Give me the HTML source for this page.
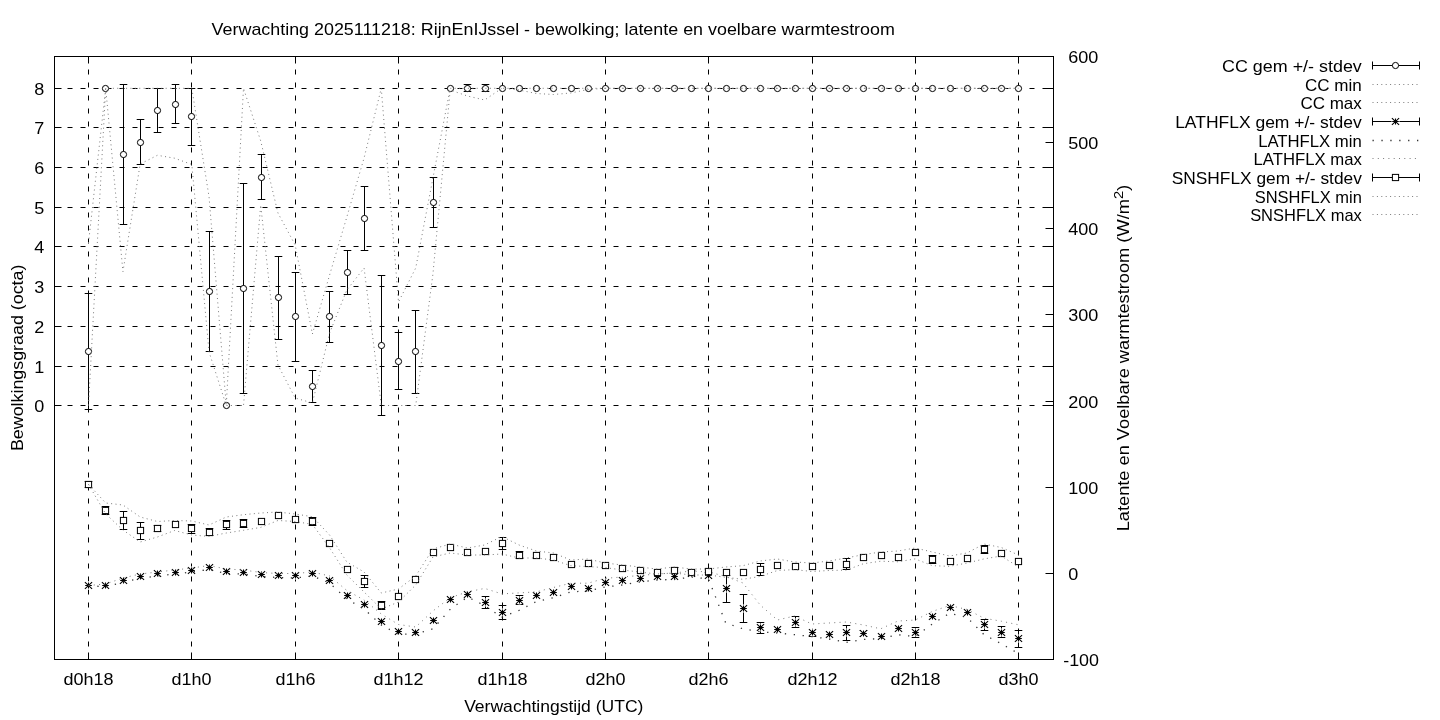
<!DOCTYPE html><html><head><meta charset="utf-8"><style>html,body{margin:0;padding:0;background:#fff;}svg{display:block;will-change:transform;}text{font-family:"Liberation Sans",sans-serif;fill:#000;}</style></head><body>
<svg width="1440" height="720" viewBox="0 0 1440 720">
<rect x="0" y="0" width="1440" height="720" fill="#fff"/>
<path d="M88.5,659.5V56.5M191.5,659.5V56.5M295.5,659.5V56.5M398.5,659.5V56.5M502.5,659.5V56.5M605.5,659.5V56.5M708.5,659.5V56.5M812.5,659.5V56.5M915.5,659.5V56.5M1018.5,659.5V56.5M54.5,88.5H1053.5M54.5,127.5H1053.5M54.5,167.5H1053.5M54.5,207.5H1053.5M54.5,246.5H1053.5M54.5,286.5H1053.5M54.5,326.5H1053.5M54.5,366.5H1053.5M54.5,405.5H1053.5" stroke="#000" stroke-width="1" fill="none" stroke-dasharray="5,8"/>
<path d="M88.5,659.5V652.5M88.5,56.5V63.5M191.5,659.5V652.5M191.5,56.5V63.5M295.5,659.5V652.5M295.5,56.5V63.5M398.5,659.5V652.5M398.5,56.5V63.5M502.5,659.5V652.5M502.5,56.5V63.5M605.5,659.5V652.5M605.5,56.5V63.5M708.5,659.5V652.5M708.5,56.5V63.5M812.5,659.5V652.5M812.5,56.5V63.5M915.5,659.5V652.5M915.5,56.5V63.5M1018.5,659.5V652.5M1018.5,56.5V63.5M54.5,88.5H61.5M1053.5,88.5H1046.5M54.5,127.5H61.5M1053.5,127.5H1046.5M54.5,167.5H61.5M1053.5,167.5H1046.5M54.5,207.5H61.5M1053.5,207.5H1046.5M54.5,246.5H61.5M1053.5,246.5H1046.5M54.5,286.5H61.5M1053.5,286.5H1046.5M54.5,326.5H61.5M1053.5,326.5H1046.5M54.5,366.5H61.5M1053.5,366.5H1046.5M54.5,405.5H61.5M1053.5,405.5H1046.5M1053.5,142.5H1045.5M1053.5,228.5H1045.5M1053.5,314.5H1045.5M1053.5,401.5H1045.5M1053.5,487.5H1045.5M1053.5,573.5H1045.5" stroke="#000" stroke-width="1" fill="none"/>
<path d="M88.50,293.50V409.50M84.70,293.50H92.30M84.70,409.50H92.30M123.50,84.50V224.50M119.70,84.50H127.30M119.70,224.50H127.30M140.50,119.50V164.50M136.70,119.50H144.30M136.70,164.50H144.30M157.50,88.50V132.50M153.70,88.50H161.30M153.70,132.50H161.30M175.50,84.50V123.50M171.70,84.50H179.30M171.70,123.50H179.30M191.50,88.50V145.50M187.70,88.50H195.30M187.70,145.50H195.30M209.50,231.50V351.50M205.70,231.50H213.30M205.70,351.50H213.30M243.50,183.50V393.50M239.70,183.50H247.30M239.70,393.50H247.30M261.50,154.50V199.50M257.70,154.50H265.30M257.70,199.50H265.30M278.50,256.50V339.50M274.70,256.50H282.30M274.70,339.50H282.30M295.50,272.50V361.50M291.70,272.50H299.30M291.70,361.50H299.30M312.50,370.50V402.50M308.70,370.50H316.30M308.70,402.50H316.30M329.50,291.50V342.50M325.70,291.50H333.30M325.70,342.50H333.30M347.50,250.50V294.50M343.70,250.50H351.30M343.70,294.50H351.30M364.50,186.50V250.50M360.70,186.50H368.30M360.70,250.50H368.30M381.50,275.50V415.50M377.70,275.50H385.30M377.70,415.50H385.30M398.50,332.50V389.50M394.70,332.50H402.30M394.70,389.50H402.30M415.50,310.50V393.50M411.70,310.50H419.30M411.70,393.50H419.30M433.50,177.50V227.50M429.70,177.50H437.30M429.70,227.50H437.30M467.50,84.50V91.50M463.70,84.50H471.30M463.70,91.50H471.30M485.50,84.50V91.50M481.70,84.50H489.30M481.70,91.50H489.30" stroke="#000" stroke-width="1" fill="none"/>
<g fill="#fff" stroke="#000" stroke-width="1"><circle cx="88.50" cy="351.50" r="3.10"/><circle cx="105.50" cy="88.50" r="3.10"/><circle cx="123.50" cy="154.50" r="3.10"/><circle cx="140.50" cy="142.50" r="3.10"/><circle cx="157.50" cy="110.50" r="3.10"/><circle cx="175.50" cy="104.50" r="3.10"/><circle cx="191.50" cy="116.50" r="3.10"/><circle cx="209.50" cy="291.50" r="3.10"/><circle cx="226.50" cy="405.50" r="3.10"/><circle cx="243.50" cy="288.50" r="3.10"/><circle cx="261.50" cy="177.50" r="3.10"/><circle cx="278.50" cy="297.50" r="3.10"/><circle cx="295.50" cy="316.50" r="3.10"/><circle cx="312.50" cy="386.50" r="3.10"/><circle cx="329.50" cy="316.50" r="3.10"/><circle cx="347.50" cy="272.50" r="3.10"/><circle cx="364.50" cy="218.50" r="3.10"/><circle cx="381.50" cy="345.50" r="3.10"/><circle cx="398.50" cy="361.50" r="3.10"/><circle cx="415.50" cy="351.50" r="3.10"/><circle cx="433.50" cy="202.50" r="3.10"/><circle cx="450.50" cy="88.50" r="3.10"/><circle cx="467.50" cy="88.50" r="3.10"/><circle cx="485.50" cy="88.50" r="3.10"/><circle cx="502.50" cy="88.50" r="3.10"/><circle cx="519.50" cy="88.50" r="3.10"/><circle cx="536.50" cy="88.50" r="3.10"/><circle cx="553.50" cy="88.50" r="3.10"/><circle cx="571.50" cy="88.50" r="3.10"/><circle cx="588.50" cy="88.50" r="3.10"/><circle cx="605.50" cy="88.50" r="3.10"/><circle cx="622.50" cy="88.50" r="3.10"/><circle cx="640.50" cy="88.50" r="3.10"/><circle cx="657.50" cy="88.50" r="3.10"/><circle cx="674.50" cy="88.50" r="3.10"/><circle cx="691.50" cy="88.50" r="3.10"/><circle cx="708.50" cy="88.50" r="3.10"/><circle cx="726.50" cy="88.50" r="3.10"/><circle cx="743.50" cy="88.50" r="3.10"/><circle cx="760.50" cy="88.50" r="3.10"/><circle cx="777.50" cy="88.50" r="3.10"/><circle cx="795.50" cy="88.50" r="3.10"/><circle cx="812.50" cy="88.50" r="3.10"/><circle cx="829.50" cy="88.50" r="3.10"/><circle cx="846.50" cy="88.50" r="3.10"/><circle cx="863.50" cy="88.50" r="3.10"/><circle cx="881.50" cy="88.50" r="3.10"/><circle cx="898.50" cy="88.50" r="3.10"/><circle cx="915.50" cy="88.50" r="3.10"/><circle cx="932.50" cy="88.50" r="3.10"/><circle cx="950.50" cy="88.50" r="3.10"/><circle cx="967.50" cy="88.50" r="3.10"/><circle cx="984.50" cy="88.50" r="3.10"/><circle cx="1001.50" cy="88.50" r="3.10"/><circle cx="1018.50" cy="88.50" r="3.10"/></g>
<polyline points="88.50,405.50 105.72,88.30 122.94,271.70 140.17,164.00 157.39,155.30 174.61,158.20 191.83,164.50 209.06,352.00 226.28,405.50 243.50,405.50 260.72,205.00 277.94,365.00 295.17,398.00 312.39,403.00 329.61,333.00 346.83,290.00 364.06,268.00 381.28,405.50 398.50,405.50 415.72,405.50 432.94,274.00 450.17,90.00 467.39,96.00 484.61,100.00 501.83,88.30 519.06,90.00 536.28,93.50 553.50,94.50 570.72,93.00 587.94,89.50 605.17,88.30 622.39,88.30 639.61,88.30 656.83,88.30 674.05,88.30 691.28,88.30 708.50,88.30 725.72,88.30 742.94,88.30 760.17,88.30 777.39,88.30 794.61,88.30 811.83,88.30 829.05,88.30 846.28,88.30 863.50,88.30 880.72,88.30 897.94,88.30 915.17,88.30 932.39,88.30 949.61,88.30 966.83,88.30 984.05,88.30 1001.28,88.30 1018.50,88.30" fill="none" stroke="#7a7a7a" stroke-width="1" stroke-dasharray="1,3.4"/>
<polyline points="88.50,243.00 105.72,88.30 122.94,88.30 140.17,88.30 157.39,88.30 174.61,88.30 191.83,88.30 209.06,197.00 226.28,405.50 243.50,88.30 260.72,141.00 277.94,213.00 295.17,245.00 312.39,334.00 329.61,275.00 346.83,217.00 364.06,158.00 381.28,88.30 398.50,302.00 415.72,268.00 432.94,178.00 450.17,88.30 467.39,88.30 484.61,88.30 501.83,88.30 519.06,88.30 536.28,88.30 553.50,88.30 570.72,88.30 587.94,88.30 605.17,88.30 622.39,88.30 639.61,88.30 656.83,88.30 674.05,88.30 691.28,88.30 708.50,88.30 725.72,88.30 742.94,88.30 760.17,88.30 777.39,88.30 794.61,88.30 811.83,88.30 829.05,88.30 846.28,88.30 863.50,88.30 880.72,88.30 897.94,88.30 915.17,88.30 932.39,88.30 949.61,88.30 966.83,88.30 984.05,88.30 1001.28,88.30 1018.50,88.30" fill="none" stroke="#7a7a7a" stroke-width="1" stroke-dasharray="1,3.4"/>
<path d="M485.50,596.50V608.50M481.70,596.50H489.30M481.70,608.50H489.30M502.50,605.50V619.50M498.70,605.50H506.30M498.70,619.50H506.30M519.50,595.50V604.50M515.70,595.50H523.30M515.70,604.50H523.30M726.50,575.50V602.50M722.70,575.50H730.30M722.70,602.50H730.30M743.50,594.50V622.50M739.70,594.50H747.30M739.70,622.50H747.30M760.50,622.50V633.50M756.70,622.50H764.30M756.70,633.50H764.30M795.50,616.50V627.50M791.70,616.50H799.30M791.70,627.50H799.30M812.50,632.40V636.50M808.70,636.50H816.30M846.50,625.50V640.50M842.70,625.50H850.30M842.70,640.50H850.30M863.50,630.50V636.50M859.70,630.50H867.30M859.70,636.50H867.30M915.50,627.50V637.50M911.70,627.50H919.30M911.70,637.50H919.30M984.50,619.50V630.50M980.70,619.50H988.30M980.70,630.50H988.30M1001.50,626.50V637.50M997.70,626.50H1005.30M997.70,637.50H1005.30M1018.50,630.50V647.50M1014.70,630.50H1022.30M1014.70,647.50H1022.30" stroke="#000" stroke-width="1" fill="none"/>
<g fill="#fff"><circle cx="88.50" cy="585.50" r="3.90"/><circle cx="105.50" cy="585.50" r="3.90"/><circle cx="123.50" cy="580.50" r="3.90"/><circle cx="140.50" cy="576.50" r="3.90"/><circle cx="157.50" cy="573.50" r="3.90"/><circle cx="175.50" cy="572.50" r="3.90"/><circle cx="191.50" cy="570.50" r="3.90"/><circle cx="209.50" cy="567.50" r="3.90"/><circle cx="226.50" cy="571.50" r="3.90"/><circle cx="243.50" cy="572.50" r="3.90"/><circle cx="261.50" cy="574.50" r="3.90"/><circle cx="278.50" cy="575.50" r="3.90"/><circle cx="295.50" cy="575.50" r="3.90"/><circle cx="312.50" cy="573.50" r="3.90"/><circle cx="329.50" cy="580.50" r="3.90"/><circle cx="347.50" cy="595.50" r="3.90"/><circle cx="364.50" cy="604.50" r="3.90"/><circle cx="381.50" cy="621.50" r="3.90"/><circle cx="398.50" cy="631.50" r="3.90"/><circle cx="415.50" cy="632.50" r="3.90"/><circle cx="433.50" cy="620.50" r="3.90"/><circle cx="450.50" cy="599.50" r="3.90"/><circle cx="467.50" cy="594.50" r="3.90"/><circle cx="485.50" cy="602.50" r="3.90"/><circle cx="502.50" cy="612.50" r="3.90"/><circle cx="519.50" cy="600.50" r="3.90"/><circle cx="536.50" cy="595.50" r="3.90"/><circle cx="553.50" cy="592.50" r="3.90"/><circle cx="571.50" cy="586.50" r="3.90"/><circle cx="588.50" cy="588.50" r="3.90"/><circle cx="605.50" cy="582.50" r="3.90"/><circle cx="622.50" cy="580.50" r="3.90"/><circle cx="640.50" cy="578.50" r="3.90"/><circle cx="657.50" cy="576.50" r="3.90"/><circle cx="674.50" cy="576.50" r="3.90"/><circle cx="691.50" cy="573.50" r="3.90"/><circle cx="708.50" cy="575.50" r="3.90"/><circle cx="726.50" cy="588.50" r="3.90"/><circle cx="743.50" cy="608.50" r="3.90"/><circle cx="760.50" cy="627.50" r="3.90"/><circle cx="777.50" cy="629.50" r="3.90"/><circle cx="795.50" cy="622.50" r="3.90"/><circle cx="812.50" cy="632.50" r="3.90"/><circle cx="829.50" cy="634.50" r="3.90"/><circle cx="846.50" cy="632.50" r="3.90"/><circle cx="863.50" cy="633.50" r="3.90"/><circle cx="881.50" cy="636.50" r="3.90"/><circle cx="898.50" cy="628.50" r="3.90"/><circle cx="915.50" cy="632.50" r="3.90"/><circle cx="932.50" cy="616.50" r="3.90"/><circle cx="950.50" cy="607.50" r="3.90"/><circle cx="967.50" cy="612.50" r="3.90"/><circle cx="984.50" cy="624.50" r="3.90"/><circle cx="1001.50" cy="632.50" r="3.90"/><circle cx="1018.50" cy="638.50" r="3.90"/></g><path d="M85.20,585.50H91.80M88.50,582.60V588.40M84.90,582.20L92.10,588.80M84.90,588.80L92.10,582.20M102.20,585.50H108.80M105.50,582.60V588.40M101.90,582.20L109.10,588.80M101.90,588.80L109.10,582.20M120.20,580.50H126.80M123.50,577.60V583.40M119.90,577.20L127.10,583.80M119.90,583.80L127.10,577.20M137.20,576.50H143.80M140.50,573.60V579.40M136.90,573.20L144.10,579.80M136.90,579.80L144.10,573.20M154.20,573.50H160.80M157.50,570.60V576.40M153.90,570.20L161.10,576.80M153.90,576.80L161.10,570.20M172.20,572.50H178.80M175.50,569.60V575.40M171.90,569.20L179.10,575.80M171.90,575.80L179.10,569.20M188.20,570.50H194.80M191.50,567.60V573.40M187.90,567.20L195.10,573.80M187.90,573.80L195.10,567.20M206.20,567.50H212.80M209.50,564.60V570.40M205.90,564.20L213.10,570.80M205.90,570.80L213.10,564.20M223.20,571.50H229.80M226.50,568.60V574.40M222.90,568.20L230.10,574.80M222.90,574.80L230.10,568.20M240.20,572.50H246.80M243.50,569.60V575.40M239.90,569.20L247.10,575.80M239.90,575.80L247.10,569.20M258.20,574.50H264.80M261.50,571.60V577.40M257.90,571.20L265.10,577.80M257.90,577.80L265.10,571.20M275.20,575.50H281.80M278.50,572.60V578.40M274.90,572.20L282.10,578.80M274.90,578.80L282.10,572.20M292.20,575.50H298.80M295.50,572.60V578.40M291.90,572.20L299.10,578.80M291.90,578.80L299.10,572.20M309.20,573.50H315.80M312.50,570.60V576.40M308.90,570.20L316.10,576.80M308.90,576.80L316.10,570.20M326.20,580.50H332.80M329.50,577.60V583.40M325.90,577.20L333.10,583.80M325.90,583.80L333.10,577.20M344.20,595.50H350.80M347.50,592.60V598.40M343.90,592.20L351.10,598.80M343.90,598.80L351.10,592.20M361.20,604.50H367.80M364.50,601.60V607.40M360.90,601.20L368.10,607.80M360.90,607.80L368.10,601.20M378.20,621.50H384.80M381.50,618.60V624.40M377.90,618.20L385.10,624.80M377.90,624.80L385.10,618.20M395.20,631.50H401.80M398.50,628.60V634.40M394.90,628.20L402.10,634.80M394.90,634.80L402.10,628.20M412.20,632.50H418.80M415.50,629.60V635.40M411.90,629.20L419.10,635.80M411.90,635.80L419.10,629.20M430.20,620.50H436.80M433.50,617.60V623.40M429.90,617.20L437.10,623.80M429.90,623.80L437.10,617.20M447.20,599.50H453.80M450.50,596.60V602.40M446.90,596.20L454.10,602.80M446.90,602.80L454.10,596.20M464.20,594.50H470.80M467.50,591.60V597.40M463.90,591.20L471.10,597.80M463.90,597.80L471.10,591.20M482.20,602.50H488.80M485.50,599.60V605.40M481.90,599.20L489.10,605.80M481.90,605.80L489.10,599.20M499.20,612.50H505.80M502.50,609.60V615.40M498.90,609.20L506.10,615.80M498.90,615.80L506.10,609.20M516.20,600.50H522.80M519.50,597.60V603.40M515.90,597.20L523.10,603.80M515.90,603.80L523.10,597.20M533.20,595.50H539.80M536.50,592.60V598.40M532.90,592.20L540.10,598.80M532.90,598.80L540.10,592.20M550.20,592.50H556.80M553.50,589.60V595.40M549.90,589.20L557.10,595.80M549.90,595.80L557.10,589.20M568.20,586.50H574.80M571.50,583.60V589.40M567.90,583.20L575.10,589.80M567.90,589.80L575.10,583.20M585.20,588.50H591.80M588.50,585.60V591.40M584.90,585.20L592.10,591.80M584.90,591.80L592.10,585.20M602.20,582.50H608.80M605.50,579.60V585.40M601.90,579.20L609.10,585.80M601.90,585.80L609.10,579.20M619.20,580.50H625.80M622.50,577.60V583.40M618.90,577.20L626.10,583.80M618.90,583.80L626.10,577.20M637.20,578.50H643.80M640.50,575.60V581.40M636.90,575.20L644.10,581.80M636.90,581.80L644.10,575.20M654.20,576.50H660.80M657.50,573.60V579.40M653.90,573.20L661.10,579.80M653.90,579.80L661.10,573.20M671.20,576.50H677.80M674.50,573.60V579.40M670.90,573.20L678.10,579.80M670.90,579.80L678.10,573.20M688.20,573.50H694.80M691.50,570.60V576.40M687.90,570.20L695.10,576.80M687.90,576.80L695.10,570.20M705.20,575.50H711.80M708.50,572.60V578.40M704.90,572.20L712.10,578.80M704.90,578.80L712.10,572.20M723.20,588.50H729.80M726.50,585.60V591.40M722.90,585.20L730.10,591.80M722.90,591.80L730.10,585.20M740.20,608.50H746.80M743.50,605.60V611.40M739.90,605.20L747.10,611.80M739.90,611.80L747.10,605.20M757.20,627.50H763.80M760.50,624.60V630.40M756.90,624.20L764.10,630.80M756.90,630.80L764.10,624.20M774.20,629.50H780.80M777.50,626.60V632.40M773.90,626.20L781.10,632.80M773.90,632.80L781.10,626.20M792.20,622.50H798.80M795.50,619.60V625.40M791.90,619.20L799.10,625.80M791.90,625.80L799.10,619.20M809.20,632.50H815.80M812.50,629.60V635.40M808.90,629.20L816.10,635.80M808.90,635.80L816.10,629.20M826.20,634.50H832.80M829.50,631.60V637.40M825.90,631.20L833.10,637.80M825.90,637.80L833.10,631.20M843.20,632.50H849.80M846.50,629.60V635.40M842.90,629.20L850.10,635.80M842.90,635.80L850.10,629.20M860.20,633.50H866.80M863.50,630.60V636.40M859.90,630.20L867.10,636.80M859.90,636.80L867.10,630.20M878.20,636.50H884.80M881.50,633.60V639.40M877.90,633.20L885.10,639.80M877.90,639.80L885.10,633.20M895.20,628.50H901.80M898.50,625.60V631.40M894.90,625.20L902.10,631.80M894.90,631.80L902.10,625.20M912.20,632.50H918.80M915.50,629.60V635.40M911.90,629.20L919.10,635.80M911.90,635.80L919.10,629.20M929.20,616.50H935.80M932.50,613.60V619.40M928.90,613.20L936.10,619.80M928.90,619.80L936.10,613.20M947.20,607.50H953.80M950.50,604.60V610.40M946.90,604.20L954.10,610.80M946.90,610.80L954.10,604.20M964.20,612.50H970.80M967.50,609.60V615.40M963.90,609.20L971.10,615.80M963.90,615.80L971.10,609.20M981.20,624.50H987.80M984.50,621.60V627.40M980.90,621.20L988.10,627.80M980.90,627.80L988.10,621.20M998.20,632.50H1004.80M1001.50,629.60V635.40M997.90,629.20L1005.10,635.80M997.90,635.80L1005.10,629.20M1015.20,638.50H1021.80M1018.50,635.60V641.40M1014.90,635.20L1022.10,641.80M1014.90,641.80L1022.10,635.20" stroke="#000" stroke-width="1.1" fill="none"/><path d="M87.00,585.50L88.50,584.00L90.00,585.50L88.50,587.00ZM104.00,585.50L105.50,584.00L107.00,585.50L105.50,587.00ZM122.00,580.50L123.50,579.00L125.00,580.50L123.50,582.00ZM139.00,576.50L140.50,575.00L142.00,576.50L140.50,578.00ZM156.00,573.50L157.50,572.00L159.00,573.50L157.50,575.00ZM174.00,572.50L175.50,571.00L177.00,572.50L175.50,574.00ZM190.00,570.50L191.50,569.00L193.00,570.50L191.50,572.00ZM208.00,567.50L209.50,566.00L211.00,567.50L209.50,569.00ZM225.00,571.50L226.50,570.00L228.00,571.50L226.50,573.00ZM242.00,572.50L243.50,571.00L245.00,572.50L243.50,574.00ZM260.00,574.50L261.50,573.00L263.00,574.50L261.50,576.00ZM277.00,575.50L278.50,574.00L280.00,575.50L278.50,577.00ZM294.00,575.50L295.50,574.00L297.00,575.50L295.50,577.00ZM311.00,573.50L312.50,572.00L314.00,573.50L312.50,575.00ZM328.00,580.50L329.50,579.00L331.00,580.50L329.50,582.00ZM346.00,595.50L347.50,594.00L349.00,595.50L347.50,597.00ZM363.00,604.50L364.50,603.00L366.00,604.50L364.50,606.00ZM380.00,621.50L381.50,620.00L383.00,621.50L381.50,623.00ZM397.00,631.50L398.50,630.00L400.00,631.50L398.50,633.00ZM414.00,632.50L415.50,631.00L417.00,632.50L415.50,634.00ZM432.00,620.50L433.50,619.00L435.00,620.50L433.50,622.00ZM449.00,599.50L450.50,598.00L452.00,599.50L450.50,601.00ZM466.00,594.50L467.50,593.00L469.00,594.50L467.50,596.00ZM484.00,602.50L485.50,601.00L487.00,602.50L485.50,604.00ZM501.00,612.50L502.50,611.00L504.00,612.50L502.50,614.00ZM518.00,600.50L519.50,599.00L521.00,600.50L519.50,602.00ZM535.00,595.50L536.50,594.00L538.00,595.50L536.50,597.00ZM552.00,592.50L553.50,591.00L555.00,592.50L553.50,594.00ZM570.00,586.50L571.50,585.00L573.00,586.50L571.50,588.00ZM587.00,588.50L588.50,587.00L590.00,588.50L588.50,590.00ZM604.00,582.50L605.50,581.00L607.00,582.50L605.50,584.00ZM621.00,580.50L622.50,579.00L624.00,580.50L622.50,582.00ZM639.00,578.50L640.50,577.00L642.00,578.50L640.50,580.00ZM656.00,576.50L657.50,575.00L659.00,576.50L657.50,578.00ZM673.00,576.50L674.50,575.00L676.00,576.50L674.50,578.00ZM690.00,573.50L691.50,572.00L693.00,573.50L691.50,575.00ZM707.00,575.50L708.50,574.00L710.00,575.50L708.50,577.00ZM725.00,588.50L726.50,587.00L728.00,588.50L726.50,590.00ZM742.00,608.50L743.50,607.00L745.00,608.50L743.50,610.00ZM759.00,627.50L760.50,626.00L762.00,627.50L760.50,629.00ZM776.00,629.50L777.50,628.00L779.00,629.50L777.50,631.00ZM794.00,622.50L795.50,621.00L797.00,622.50L795.50,624.00ZM811.00,632.50L812.50,631.00L814.00,632.50L812.50,634.00ZM828.00,634.50L829.50,633.00L831.00,634.50L829.50,636.00ZM845.00,632.50L846.50,631.00L848.00,632.50L846.50,634.00ZM862.00,633.50L863.50,632.00L865.00,633.50L863.50,635.00ZM880.00,636.50L881.50,635.00L883.00,636.50L881.50,638.00ZM897.00,628.50L898.50,627.00L900.00,628.50L898.50,630.00ZM914.00,632.50L915.50,631.00L917.00,632.50L915.50,634.00ZM931.00,616.50L932.50,615.00L934.00,616.50L932.50,618.00ZM949.00,607.50L950.50,606.00L952.00,607.50L950.50,609.00ZM966.00,612.50L967.50,611.00L969.00,612.50L967.50,614.00ZM983.00,624.50L984.50,623.00L986.00,624.50L984.50,626.00ZM1000.00,632.50L1001.50,631.00L1003.00,632.50L1001.50,634.00ZM1017.00,638.50L1018.50,637.00L1020.00,638.50L1018.50,640.00Z" fill="#000"/>
<polyline points="88.50,585.50 105.72,587.00 122.94,582.00 140.17,578.50 157.39,576.00 174.61,574.00 191.83,572.00 209.06,569.50 226.28,573.50 243.50,574.00 260.72,576.50 277.94,577.50 295.17,578.00 312.39,576.00 329.61,583.00 346.83,599.00 364.06,609.00 381.28,625.00 398.50,634.30 415.72,634.00 432.94,628.80 450.17,609.40 467.39,597.00 484.61,605.50 501.83,617.20 519.06,610.40 536.28,601.60 553.50,597.70 570.72,591.90 587.94,590.90 605.17,587.00 622.39,585.00 639.61,582.00 656.83,580.00 674.05,579.50 691.28,577.00 708.50,579.00 725.72,623.00 742.94,628.80 760.17,631.80 777.39,633.00 794.61,634.70 811.83,636.60 829.05,639.00 846.28,642.40 863.50,639.50 880.72,638.60 897.94,634.70 915.17,636.60 932.39,624.00 949.61,613.30 966.83,617.20 984.05,634.70 1001.28,643.70 1018.50,653.60" fill="none" stroke="#333" stroke-width="1.3" stroke-dasharray="1.3,7.6"/>
<polyline points="88.50,585.50 105.72,584.00 122.94,578.00 140.17,574.00 157.39,572.00 174.61,570.00 191.83,568.00 209.06,565.50 226.28,569.00 243.50,570.00 260.72,572.50 277.94,573.50 295.17,573.50 312.39,572.00 329.61,576.00 346.83,590.50 364.06,600.00 381.28,614.00 398.50,624.50 415.72,627.00 432.94,611.00 450.17,597.70 467.39,591.90 484.61,588.40 501.83,593.90 519.06,592.90 536.28,591.90 553.50,587.50 570.72,583.20 587.94,583.20 605.17,578.30 622.39,577.00 639.61,575.50 656.83,574.00 674.05,573.00 691.28,571.00 708.50,572.00 725.72,576.40 742.94,583.00 760.17,605.00 777.39,620.00 794.61,616.00 811.83,624.00 829.05,623.00 846.28,622.00 863.50,625.00 880.72,628.80 897.94,621.00 915.17,620.10 932.39,611.40 949.61,605.50 966.83,609.40 984.05,618.20 1001.28,621.20 1018.50,624.80" fill="none" stroke="#7a7a7a" stroke-width="1" stroke-dasharray="1,4.3"/>
<path d="M88.50,481.50V487.50M84.70,481.50H92.30M84.70,487.50H92.30M105.50,506.50V514.50M101.70,506.50H109.30M101.70,514.50H109.30M123.50,511.50V529.50M119.70,511.50H127.30M119.70,529.50H127.30M140.50,522.50V539.50M136.70,522.50H144.30M136.70,539.50H144.30M157.50,525.50V531.50M153.70,525.50H161.30M153.70,531.50H161.30M191.50,524.50V533.50M187.70,524.50H195.30M187.70,533.50H195.30M209.50,528.50V535.50M205.70,528.50H213.30M205.70,535.50H213.30M226.50,520.50V529.50M222.70,520.50H230.30M222.70,529.50H230.30M243.50,519.50V527.50M239.70,519.50H247.30M239.70,527.50H247.30M312.50,517.50V525.50M308.70,517.50H316.30M308.70,525.50H316.30M364.50,575.50V587.50M360.70,575.50H368.30M360.70,587.50H368.30M381.50,601.50V609.50M377.70,601.50H385.30M377.70,609.50H385.30M502.50,537.50V549.50M498.70,537.50H506.30M498.70,549.50H506.30M519.50,551.50V558.50M515.70,551.50H523.30M515.70,558.50H523.30M760.50,563.50V575.50M756.70,563.50H764.30M756.70,575.50H764.30M846.50,558.50V569.50M842.70,558.50H850.30M842.70,569.50H850.30M932.50,555.50V563.50M928.70,555.50H936.30M928.70,563.50H936.30M984.50,545.50V553.50M980.70,545.50H988.30M980.70,553.50H988.30" stroke="#000" stroke-width="1" fill="none"/>
<g fill="#fff" stroke="#000" stroke-width="1"><rect x="85.40" y="481.40" width="6.2" height="6.2"/><rect x="102.40" y="507.40" width="6.2" height="6.2"/><rect x="120.40" y="517.40" width="6.2" height="6.2"/><rect x="137.40" y="527.40" width="6.2" height="6.2"/><rect x="154.40" y="525.40" width="6.2" height="6.2"/><rect x="172.40" y="521.40" width="6.2" height="6.2"/><rect x="188.40" y="525.40" width="6.2" height="6.2"/><rect x="206.40" y="529.40" width="6.2" height="6.2"/><rect x="223.40" y="521.40" width="6.2" height="6.2"/><rect x="240.40" y="520.40" width="6.2" height="6.2"/><rect x="258.40" y="518.40" width="6.2" height="6.2"/><rect x="275.40" y="512.40" width="6.2" height="6.2"/><rect x="292.40" y="516.40" width="6.2" height="6.2"/><rect x="309.40" y="518.40" width="6.2" height="6.2"/><rect x="326.40" y="540.40" width="6.2" height="6.2"/><rect x="344.40" y="566.40" width="6.2" height="6.2"/><rect x="361.40" y="578.40" width="6.2" height="6.2"/><rect x="378.40" y="602.40" width="6.2" height="6.2"/><rect x="395.40" y="593.40" width="6.2" height="6.2"/><rect x="412.40" y="576.40" width="6.2" height="6.2"/><rect x="430.40" y="549.40" width="6.2" height="6.2"/><rect x="447.40" y="544.40" width="6.2" height="6.2"/><rect x="464.40" y="549.40" width="6.2" height="6.2"/><rect x="482.40" y="548.40" width="6.2" height="6.2"/><rect x="499.40" y="540.40" width="6.2" height="6.2"/><rect x="516.40" y="552.40" width="6.2" height="6.2"/><rect x="533.40" y="552.40" width="6.2" height="6.2"/><rect x="550.40" y="554.40" width="6.2" height="6.2"/><rect x="568.40" y="561.40" width="6.2" height="6.2"/><rect x="585.40" y="560.40" width="6.2" height="6.2"/><rect x="602.40" y="562.40" width="6.2" height="6.2"/><rect x="619.40" y="565.40" width="6.2" height="6.2"/><rect x="637.40" y="567.40" width="6.2" height="6.2"/><rect x="654.40" y="569.40" width="6.2" height="6.2"/><rect x="671.40" y="567.40" width="6.2" height="6.2"/><rect x="688.40" y="569.40" width="6.2" height="6.2"/><rect x="705.40" y="568.40" width="6.2" height="6.2"/><rect x="723.40" y="569.40" width="6.2" height="6.2"/><rect x="740.40" y="569.40" width="6.2" height="6.2"/><rect x="757.40" y="566.40" width="6.2" height="6.2"/><rect x="774.40" y="562.40" width="6.2" height="6.2"/><rect x="792.40" y="563.40" width="6.2" height="6.2"/><rect x="809.40" y="563.40" width="6.2" height="6.2"/><rect x="826.40" y="562.40" width="6.2" height="6.2"/><rect x="843.40" y="561.40" width="6.2" height="6.2"/><rect x="860.40" y="554.40" width="6.2" height="6.2"/><rect x="878.40" y="552.40" width="6.2" height="6.2"/><rect x="895.40" y="554.40" width="6.2" height="6.2"/><rect x="912.40" y="549.40" width="6.2" height="6.2"/><rect x="929.40" y="556.40" width="6.2" height="6.2"/><rect x="947.40" y="558.40" width="6.2" height="6.2"/><rect x="964.40" y="555.40" width="6.2" height="6.2"/><rect x="981.40" y="546.40" width="6.2" height="6.2"/><rect x="998.40" y="550.40" width="6.2" height="6.2"/><rect x="1015.40" y="558.40" width="6.2" height="6.2"/></g>
<polyline points="88.50,484.40 105.72,514.00 122.94,530.00 140.17,542.00 157.39,537.00 174.61,530.50 191.83,535.00 209.06,536.40 226.28,533.00 243.50,530.30 260.72,527.40 277.94,520.50 295.17,521.50 312.39,524.40 329.61,547.80 346.83,575.00 364.06,592.00 381.28,609.00 398.50,602.00 415.72,585.00 432.94,557.00 450.17,553.00 467.39,555.00 484.61,555.00 501.83,554.00 519.06,558.00 536.28,558.00 553.50,560.00 570.72,565.70 587.94,566.60 605.17,567.60 622.39,570.00 639.61,572.00 656.83,574.00 674.05,573.00 691.28,575.00 708.50,575.00 725.72,577.30 742.94,579.30 760.17,576.40 777.39,570.50 794.61,569.60 811.83,571.50 829.05,570.50 846.28,570.10 863.50,563.70 880.72,561.20 897.94,561.80 915.17,558.90 932.39,565.70 949.61,566.30 966.83,563.10 984.05,558.90 1001.28,556.00 1018.50,567.00" fill="none" stroke="#7a7a7a" stroke-width="1" stroke-dasharray="1,3.4"/>
<polyline points="88.50,484.40 105.72,503.00 122.94,505.00 140.17,517.00 157.39,521.50 174.61,520.50 191.83,521.00 209.06,525.00 226.28,517.00 243.50,514.70 260.72,513.00 277.94,512.00 295.17,514.00 312.39,516.70 329.61,535.00 346.83,562.00 364.06,572.00 381.28,593.00 398.50,589.00 415.72,576.00 432.94,549.00 450.17,544.00 467.39,548.00 484.61,545.00 501.83,536.50 519.06,545.00 536.28,551.00 553.50,553.00 570.72,560.00 587.94,559.00 605.17,563.00 622.39,565.00 639.61,567.00 656.83,569.00 674.05,567.00 691.28,569.00 708.50,569.00 725.72,567.00 742.94,565.70 760.17,561.00 777.39,559.00 794.61,562.00 811.83,563.00 829.05,561.00 846.28,558.00 863.50,554.60 880.72,552.00 897.94,551.00 915.17,548.00 932.39,552.00 949.61,556.00 966.83,553.00 984.05,544.00 1001.28,547.50 1018.50,555.00" fill="none" stroke="#7a7a7a" stroke-width="1" stroke-dasharray="1,3.4"/>
<rect x="54.5" y="56.5" width="999" height="603" fill="none" stroke="#000" stroke-width="1"/>
<text x="553.25" y="34.50" font-size="17" text-anchor="middle" textLength="683.22" lengthAdjust="spacingAndGlyphs">Verwachting 2025111218: RijnEnIJssel - bewolking; latente en voelbare warmtestroom</text>
<text x="88.50" y="684.60" font-size="17" text-anchor="middle" textLength="50.10" lengthAdjust="spacingAndGlyphs">d0h18</text>
<text x="191.50" y="684.60" font-size="17" text-anchor="middle" textLength="40.06" lengthAdjust="spacingAndGlyphs">d1h0</text>
<text x="295.50" y="684.60" font-size="17" text-anchor="middle" textLength="40.06" lengthAdjust="spacingAndGlyphs">d1h6</text>
<text x="398.50" y="684.60" font-size="17" text-anchor="middle" textLength="50.10" lengthAdjust="spacingAndGlyphs">d1h12</text>
<text x="502.50" y="684.60" font-size="17" text-anchor="middle" textLength="50.10" lengthAdjust="spacingAndGlyphs">d1h18</text>
<text x="605.50" y="684.60" font-size="17" text-anchor="middle" textLength="40.06" lengthAdjust="spacingAndGlyphs">d2h0</text>
<text x="708.50" y="684.60" font-size="17" text-anchor="middle" textLength="40.06" lengthAdjust="spacingAndGlyphs">d2h6</text>
<text x="812.50" y="684.60" font-size="17" text-anchor="middle" textLength="50.10" lengthAdjust="spacingAndGlyphs">d2h12</text>
<text x="915.50" y="684.60" font-size="17" text-anchor="middle" textLength="50.10" lengthAdjust="spacingAndGlyphs">d2h18</text>
<text x="1018.50" y="684.60" font-size="17" text-anchor="middle" textLength="40.06" lengthAdjust="spacingAndGlyphs">d3h0</text>
<text x="553.80" y="712.20" font-size="17" text-anchor="middle" textLength="179.30" lengthAdjust="spacingAndGlyphs">Verwachtingstijd (UTC)</text>
<text x="44.30" y="94.50" font-size="17" text-anchor="end" textLength="10.03" lengthAdjust="spacingAndGlyphs">8</text>
<text x="44.30" y="133.50" font-size="17" text-anchor="end" textLength="10.03" lengthAdjust="spacingAndGlyphs">7</text>
<text x="44.30" y="173.50" font-size="17" text-anchor="end" textLength="10.03" lengthAdjust="spacingAndGlyphs">6</text>
<text x="44.30" y="213.50" font-size="17" text-anchor="end" textLength="10.03" lengthAdjust="spacingAndGlyphs">5</text>
<text x="44.30" y="252.50" font-size="17" text-anchor="end" textLength="10.03" lengthAdjust="spacingAndGlyphs">4</text>
<text x="44.30" y="292.50" font-size="17" text-anchor="end" textLength="10.03" lengthAdjust="spacingAndGlyphs">3</text>
<text x="44.30" y="332.50" font-size="17" text-anchor="end" textLength="10.03" lengthAdjust="spacingAndGlyphs">2</text>
<text x="44.30" y="372.50" font-size="17" text-anchor="end" textLength="10.03" lengthAdjust="spacingAndGlyphs">1</text>
<text x="44.30" y="411.50" font-size="17" text-anchor="end" textLength="10.03" lengthAdjust="spacingAndGlyphs">0</text>
<text x="1068.30" y="62.50" font-size="17" text-anchor="start" textLength="30.10" lengthAdjust="spacingAndGlyphs">600</text>
<text x="1068.30" y="148.50" font-size="17" text-anchor="start" textLength="30.10" lengthAdjust="spacingAndGlyphs">500</text>
<text x="1068.30" y="234.50" font-size="17" text-anchor="start" textLength="30.10" lengthAdjust="spacingAndGlyphs">400</text>
<text x="1068.30" y="320.50" font-size="17" text-anchor="start" textLength="30.10" lengthAdjust="spacingAndGlyphs">300</text>
<text x="1068.30" y="407.50" font-size="17" text-anchor="start" textLength="30.10" lengthAdjust="spacingAndGlyphs">200</text>
<text x="1068.30" y="493.50" font-size="17" text-anchor="start" textLength="30.10" lengthAdjust="spacingAndGlyphs">100</text>
<text x="1068.30" y="579.50" font-size="17" text-anchor="start" textLength="10.03" lengthAdjust="spacingAndGlyphs">0</text>
<text x="1063.20" y="665.50" font-size="17" text-anchor="start" textLength="35.80" lengthAdjust="spacingAndGlyphs">-100</text>
<g transform="translate(23.2,357.85) rotate(-90)"><text x="0.00" y="0.00" font-size="17" text-anchor="middle" textLength="186.49" lengthAdjust="spacingAndGlyphs">Bewolkingsgraad (octa)</text></g>
<g transform="translate(1129.3,531.33) rotate(-90)"><text x="0" y="0" font-size="17" textLength="332.22" lengthAdjust="spacingAndGlyphs">Latente en Voelbare warmtestroom (W/m</text><text x="332.22" y="-6.2" font-size="13.6" textLength="8.17" lengthAdjust="spacingAndGlyphs">2</text><text x="340.39" y="0" font-size="17" textLength="6.27" lengthAdjust="spacingAndGlyphs">)</text></g>
<text x="1361.80" y="71.50" font-size="17" text-anchor="end" textLength="139.76" lengthAdjust="spacingAndGlyphs">CC gem +/- stdev</text>
<path d="M1372.5,65.50H1419.5M1372.5,61.50V69.50M1419.5,61.50V69.50" stroke="#000" stroke-width="1" fill="none"/>
<circle cx="1395.50" cy="65.50" r="3.1" fill="#fff" stroke="#000"/>
<text x="1361.80" y="90.50" font-size="17" text-anchor="end" textLength="56.76" lengthAdjust="spacingAndGlyphs">CC min</text>
<path d="M1372.5,84.50H1419.5" stroke="#7a7a7a" stroke-width="1" stroke-dasharray="1,3.4" fill="none"/>
<text x="1361.80" y="108.50" font-size="17" text-anchor="end" textLength="61.38" lengthAdjust="spacingAndGlyphs">CC max</text>
<path d="M1372.5,102.50H1419.5" stroke="#7a7a7a" stroke-width="1" stroke-dasharray="1,3.4" fill="none"/>
<text x="1361.80" y="127.50" font-size="17" text-anchor="end" textLength="186.63" lengthAdjust="spacingAndGlyphs">LATHFLX gem +/- stdev</text>
<path d="M1372.5,121.50H1419.5M1372.5,117.50V125.50M1419.5,117.50V125.50" stroke="#000" stroke-width="1" fill="none"/>
<circle cx="1395.50" cy="121.50" r="3.90" fill="#fff"/>
<path d="M1392.20,121.50H1398.80M1395.50,118.60V124.40M1391.90,118.20L1399.10,124.80M1391.90,124.80L1399.10,118.20" stroke="#000" stroke-width="1.1" fill="none"/><path d="M1394.00,121.50L1395.50,120.00L1397.00,121.50L1395.50,123.00Z" fill="#000"/>
<text x="1361.80" y="146.50" font-size="17" text-anchor="end" textLength="103.63" lengthAdjust="spacingAndGlyphs">LATHFLX min</text>
<path d="M1372.5,140.50H1419.5" stroke="#333" stroke-width="1.3" stroke-dasharray="1.3,7.6" fill="none"/>
<text x="1361.80" y="164.50" font-size="17" text-anchor="end" textLength="108.24" lengthAdjust="spacingAndGlyphs">LATHFLX max</text>
<path d="M1372.5,158.50H1419.5" stroke="#7a7a7a" stroke-width="1" stroke-dasharray="1,4.3" fill="none"/>
<text x="1361.80" y="183.50" font-size="17" text-anchor="end" textLength="190.06" lengthAdjust="spacingAndGlyphs">SNSHFLX gem +/- stdev</text>
<path d="M1372.5,177.50H1419.5M1372.5,173.50V181.50M1419.5,173.50V181.50" stroke="#000" stroke-width="1" fill="none"/>
<rect x="1392.40" y="174.40" width="6.2" height="6.2" fill="#fff" stroke="#000"/>
<text x="1361.80" y="202.50" font-size="17" text-anchor="end" textLength="107.06" lengthAdjust="spacingAndGlyphs">SNSHFLX min</text>
<path d="M1372.5,196.50H1419.5" stroke="#7a7a7a" stroke-width="1" stroke-dasharray="1,3.4" fill="none"/>
<text x="1361.80" y="220.50" font-size="17" text-anchor="end" textLength="111.67" lengthAdjust="spacingAndGlyphs">SNSHFLX max</text>
<path d="M1372.5,214.50H1419.5" stroke="#7a7a7a" stroke-width="1" stroke-dasharray="1,3.4" fill="none"/>
</svg></body></html>
